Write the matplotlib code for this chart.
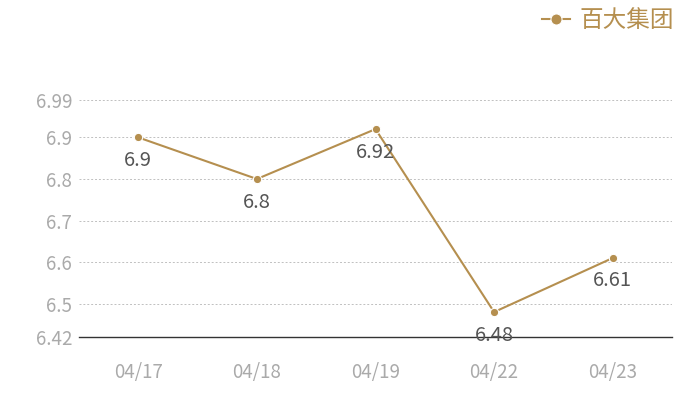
import matplotlib
matplotlib.use("Agg")
import matplotlib.pyplot as plt
from matplotlib.lines import Line2D

plt.rcParams['font.family'] = ['Noto Sans CJK SC', 'DejaVu Sans']

categories = ["04/17", "04/18", "04/19", "04/22", "04/23"]
values = [6.9, 6.8, 6.92, 6.48, 6.61]
value_labels = ["6.9", "6.8", "6.92", "6.48", "6.61"]
yticks = [6.42, 6.5, 6.6, 6.7, 6.8, 6.9, 6.99]
ytick_labels = ["6.42", "6.5", "6.6", "6.7", "6.8", "6.9", "6.99"]
series_name = "百大集团"

line_color = "#b58f4f"
tick_color = "#aaaaaa"
label_color = "#555555"

fig = plt.figure(figsize=(7, 4), dpi=100)
ax = fig.add_axes([79/700, 63/400, (672-79)/700, (337-100)/400])

x = list(range(len(categories)))
ax.plot(x, values, color=line_color, lw=1.5, marker="o", ms=6,
        markeredgecolor="white", markeredgewidth=0.8, zorder=3)
for xi, v, t in zip(x, values, value_labels):
    ax.annotate(t, (xi, v), xytext=(0, -9), textcoords="offset points",
                ha="center", va="top", fontsize=14.5, color=label_color)

ax.set_xlim(-0.5, len(categories) - 0.5)
ax.set_ylim(6.42, 6.99)
ax.set_yticks(yticks)
ax.set_yticklabels(ytick_labels)
ax.set_xticks(x)
ax.set_xticklabels(categories)
ax.tick_params(axis="both", length=0, colors=tick_color, labelsize=13.5)
ax.tick_params(axis="x", pad=18)
ax.tick_params(axis="y", pad=5)
for yt in yticks[1:]:
    ax.axhline(yt, color="#c0c0c0", lw=0.7, ls=(0, (2, 2)), zorder=1)
for s in ["top", "right", "left"]:
    ax.spines[s].set_visible(False)
ax.spines["bottom"].set_color("#333333")
ax.spines["bottom"].set_linewidth(1)

handle = Line2D([0], [0], color=line_color, lw=1.5, marker="o", ms=8,
                markeredgecolor="white", markeredgewidth=0.8)
leg = fig.legend([handle], [series_name], loc="upper right",
                 bbox_to_anchor=(0.993, 1.03), frameon=False, fontsize=17,
                 handlelength=1.2, handletextpad=0.4)
for t in leg.get_texts():
    t.set_color(line_color)

fig.savefig("out.png", dpi=100)
